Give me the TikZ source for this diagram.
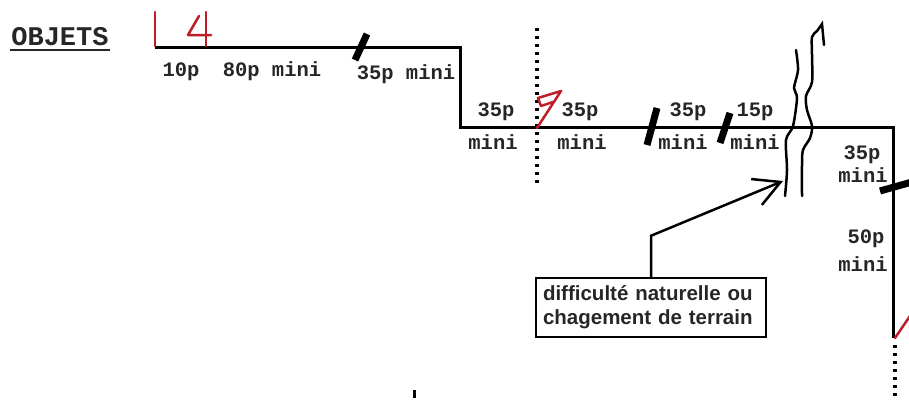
\documentclass[tikz,border=0pt]{standalone}
\usepackage{fontspec}
\setmonofont{Liberation Mono}
\setsansfont{Liberation Sans}
\usetikzlibrary{arrows.meta}
\definecolor{penred}{RGB}{190,30,40}
\begin{document}
\begin{tikzpicture}[x=1pt,y=-1pt,
  lbl/.style={font=\ttfamily\bfseries\fontsize{20.5}{22}\selectfont, inner sep=0pt, anchor=base, text=black!85},
  route/.style={line width=3pt, line join=miter},
  tickmark/.style={line width=7pt},
  pen/.style={draw=penred, line width=2.5pt, line cap=round, line join=round},
  wavy/.style={line width=2.5pt, line cap=round},
  dots/.style={line width=3.5pt, dash pattern=on 3pt off 5pt},
]
\useasboundingbox (0,0) rectangle (909,399);

% title
\node[font=\ttfamily\bfseries\fontsize{27}{30}\selectfont, inner sep=0pt, text=black!85] (objets) at (60,37) {OBJETS};
\draw[line width=2.5pt, black!85] (10,50) -- (110,50);

% route
\coordinate (r0) at (155,47);
\coordinate (r1) at (460,47);
\coordinate (r2) at (460,127);
\coordinate (r3) at (893,127);
\coordinate (r4) at (893,338);
\draw[route] (r0) -- (r1) -- (r2) -- (r3) -- (r4);

% dotted lines
\draw[dots] (537,28) -- (537,185);
\draw[dots] (895,345) -- (895,405);
\draw[line width=3pt] (414,390) -- (414,398);

% red pen marks
\draw[pen] (155,12) -- (155,46);
\draw[pen] (206,12) -- (206,46);
\draw[pen] (199,16) -- (188,35) -- (211,35);
\draw[pen] (537,128) -- (561,91) -- (538,98) -- (541,106) -- (553,102);
\draw[pen] (895,338) -- (912,313);

% thick ticks
\draw[tickmark] (367,34) -- (355,60);
\draw[tickmark] (657,108) -- (647,145);
\draw[tickmark] (730,113) -- (720,143);
\draw[tickmark] (880,191) -- (912,182);

% wavy lines
\draw[wavy] plot[smooth] coordinates {(796,50) (798,70) (794,88) (797,98) (793,126) (786,140) (787,170) (785,196)};
\draw[wavy] plot[smooth] coordinates {(802,196) (802,165) (803,150) (810,138) (812,126) (807,110) (806,96) (812,82) (812,55) (812,37) (817,31) (822,24)} -- (824,45);

% labels
\node[lbl] (l1) at (181,76) {10p};
\node[lbl] (l2) at (272,76) {80p mini};
\node[lbl] (l3) at (406,79) {35p mini};
\node[lbl] (l4a) at (496,116) {35p};
\node[lbl] (l4b) at (493,149) {mini};
\node[lbl] (l5a) at (580,116) {35p};
\node[lbl] (l5b) at (582,149) {mini};
\node[lbl] (l6a) at (688,116) {35p};
\node[lbl] (l6b) at (683,149) {mini};
\node[lbl] (l7a) at (755,116) {15p};
\node[lbl] (l7b) at (755,149) {mini};
\node[lbl] (l8a) at (862,159) {35p};
\node[lbl] (l8b) at (863,182) {mini};
\node[lbl] (l9a) at (866,243) {50p};
\node[lbl] (l9b) at (863,271) {mini};

% callout box
\node[draw, line width=2.5pt, font=\sffamily\bfseries\fontsize{20.5}{24}\selectfont, align=left, text width=216pt, inner sep=7pt, minimum height=59pt, text=black!85] (box) at (651,307.5) {difficulté naturelle ou\\chagement de terrain};
\coordinate (tip) at (783,181);
\draw[line width=2.5pt, -{Straight Barb[length=26pt,width=28pt]}] (box.north) -- ++(0,-41) -- (tip);
\end{tikzpicture}
\end{document}
